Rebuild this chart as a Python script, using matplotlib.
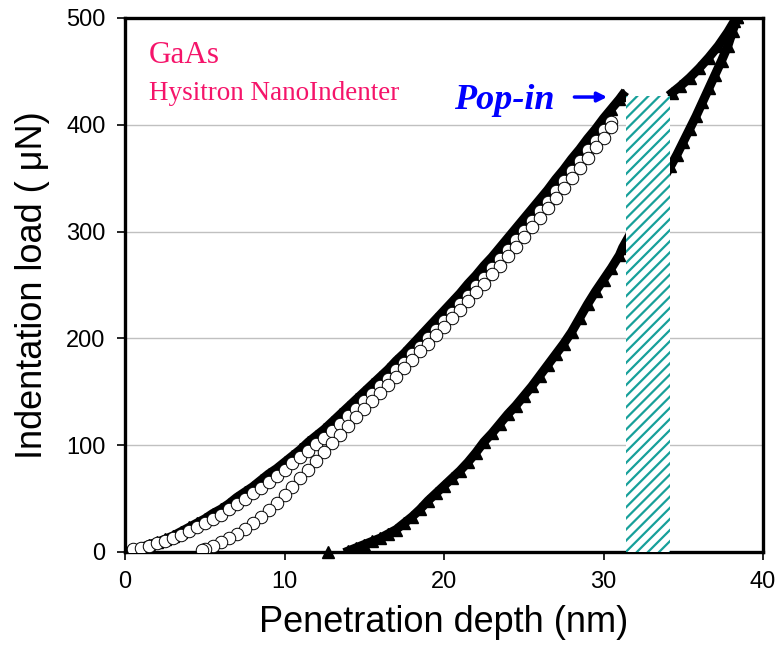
import matplotlib
matplotlib.use("Agg")
import matplotlib.pyplot as plt
from matplotlib.patches import Rectangle

# --- elastic test (open circles): loading then unloading
circ_load_x = [0.5, 1.0, 1.5, 2.0, 2.5, 3.0, 3.5, 4.0, 4.5, 5.0, 5.5, 6.0, 6.5, 7.0, 7.5,
               8.0, 8.5, 9.0, 9.5, 10.0, 10.5, 11.0, 11.5, 12.0, 12.5, 13.0, 13.5, 14.0,
               14.5, 15.0, 15.5, 16.0, 16.5, 17.0, 17.5, 18.0, 18.5, 19.0, 19.5, 20.0,
               20.5, 21.0, 21.5, 22.0, 22.5, 23.0, 23.5, 24.0, 24.5, 25.0, 25.5, 26.0,
               26.5, 27.0, 27.5, 28.0, 28.5, 29.0, 29.5, 30.0, 30.5]
circ_load_y = [3, 4, 6, 8, 10, 13, 16, 20, 23, 27, 31, 35, 40, 45, 50,
               55, 60, 66, 71, 77, 83, 89, 95, 101, 107, 113, 120, 127,
               134, 141, 148, 155, 162, 170, 177, 185, 192, 200, 208, 216,
               224, 232, 240, 249, 257, 266, 274, 283, 292, 301, 310, 319,
               328, 338, 347, 357, 366, 376, 385, 395, 403]

circ_unload_x = [30.5, 30.0, 29.5, 29.0, 28.5, 28.0, 27.5, 27.0, 26.5, 26.0, 25.5, 25.0,
                 24.5, 24.0, 23.5, 23.0, 22.5, 22.0, 21.5, 21.0, 20.5, 20.0, 19.5, 19.0,
                 18.5, 18.0, 17.5, 17.0, 16.5, 16.0, 15.5, 15.0, 14.5, 14.0, 13.5, 13.0,
                 12.5, 12.0, 11.5, 11.0, 10.5, 10.0, 9.5, 9.0, 8.5, 8.0, 7.5, 7.0, 6.5,
                 6.0, 5.5, 5.0, 4.8]
circ_unload_y = [398, 388, 379, 369, 360, 350, 341, 331, 322, 313, 304, 295,
                 286, 277, 268, 260, 251, 243, 235, 227, 219, 211, 203, 195,
                 188, 180, 172, 164, 156, 149, 141, 134, 126, 118, 110, 102,
                 94, 85, 77, 69, 61, 53, 46, 39, 33, 27, 22, 17, 13,
                 9, 6, 3, 2]

# --- plastic test (filled triangles): loading up to the pop-in
tri_load_x = [0.0, 0.5, 1.0, 1.5, 2.0, 2.5, 3.0, 3.5, 4.0, 4.5, 5.0, 5.5, 6.0, 6.5, 7.0,
              7.5, 8.0, 8.5, 9.0, 9.5, 10.0, 10.5, 11.0, 11.5, 12.0, 12.5, 13.0, 13.5,
              14.0, 14.5, 15.0, 15.5, 16.0, 16.5, 17.0, 17.5, 18.0, 18.5, 19.0, 19.5,
              20.0, 20.5, 21.0, 21.5, 22.0, 22.5, 23.0, 23.5, 24.0, 24.5, 25.0, 25.5,
              26.0, 26.5, 27.0, 27.5, 28.0, 28.5, 29.0, 29.5, 30.0, 30.5, 31.0, 31.2]
tri_load_y = [0, 2, 4, 7, 9, 12, 15, 19, 23, 27, 31, 36, 40, 45, 51,
              56, 61, 67, 73, 78, 84, 90, 96, 103, 109, 115, 122, 129,
              136, 143, 150, 157, 164, 171, 179, 186, 194, 202, 210, 218,
              226, 234, 242, 251, 259, 268, 276, 285, 294, 303, 312, 321,
              330, 339, 349, 358, 368, 377, 387, 396, 406, 415, 424, 428]

# reloading after the pop-in, up to peak load
tri_reload_x = [34.3, 34.8, 35.4, 36.0, 36.6, 37.2, 37.8, 38.2, 38.4]
tri_reload_y = [430, 436, 444, 453, 463, 474, 487, 497, 501]

# unloading from peak load
tri_unload_x = [38.4, 38.1, 37.8, 37.4, 37.0, 36.6, 36.2, 35.8, 35.4, 35.0, 34.6, 34.2,
                33.5, 33.0, 32.5, 32.0, 31.5, 31.2, 31.0, 30.5, 30.0, 29.5, 29.0, 28.5,
                28.0, 27.5, 27.0, 26.5, 26.0, 25.5, 25.0, 24.5, 24.0, 23.5, 23.0, 22.5,
                22.0, 21.5, 21.0, 20.5, 20.0, 19.5, 19.0, 18.5, 18.0, 17.5, 17.0, 16.5,
                16.0, 15.5, 15.0, 14.5, 14.0]
tri_unload_y = [501, 488, 474, 460, 447, 434, 421, 408, 396, 384, 372, 361,
                343, 331, 318, 306, 293, 285, 278, 266, 255, 244, 232, 219,
                206, 195, 185, 175, 165, 155, 146, 137, 129, 120, 111, 103,
                93, 84, 76, 69, 62, 55, 48, 40, 33, 27, 21, 17,
                13, 10, 7, 4, 1]
# stray points at zero load
tri_stray_x = [12.7]
tri_stray_y = [0]

popin_x0, popin_x1, popin_load = 31.4, 34.2, 427

plt.rcParams["font.family"] = ["Liberation Sans", "DejaVu Sans"]
plt.rcParams["hatch.linewidth"] = 1.6

fig = plt.figure(figsize=(7.77, 6.52), dpi=100)
ax = fig.add_axes([125 / 777, 100 / 652, 638 / 777, 534 / 652])

tri_kw = dict(color="black", lw=6.5, marker="^", ms=9, mfc="black", mec="black",
              solid_joinstyle="round", zorder=2)
ax.plot(tri_load_x, tri_load_y, **tri_kw)
ax.plot(tri_reload_x, tri_reload_y, **tri_kw)
ax.plot(tri_unload_x, tri_unload_y, **tri_kw)
ax.plot(tri_stray_x, tri_stray_y, ls="none", marker="^", ms=9, color="black",
        zorder=2, clip_on=False)

circ_kw = dict(color="black", lw=0.8, marker="o", ms=9, mfc="white", mec="black",
               mew=0.7, zorder=3)
ax.plot(circ_load_x, circ_load_y, **circ_kw)
ax.plot(circ_unload_x, circ_unload_y, **circ_kw)

# pop-in excursion, hatched
ax.add_patch(Rectangle((popin_x0, 0), popin_x1 - popin_x0, popin_load,
                       facecolor="white", edgecolor="#17a09a", hatch="///",
                       linewidth=0, zorder=4))

ax.text(1.5, 458, "GaAs", family="Liberation Serif", fontsize=22.5, color="#f5146a",
        va="baseline")
ax.text(1.5, 423, "Hysitron NanoIndenter", family="Liberation Serif", fontsize=19.5,
        color="#f5146a", va="baseline")
ax.text(20.6, 415, "Pop-in", family="Liberation Serif", fontsize=26, color="#0000ff",
        fontweight="bold", fontstyle="italic", va="baseline")
ax.annotate("", xy=(30.4, 426), xytext=(28.0, 426),
            arrowprops=dict(arrowstyle="-|>", color="#0000ff", lw=2.5,
                            mutation_scale=14))

ax.set_xlim(0, 40)
ax.set_ylim(0, 500)
ax.set_xticks([0, 10, 20, 30, 40])
ax.set_yticks([0, 100, 200, 300, 400, 500])
ax.yaxis.grid(True, color="#c0c0c0", lw=1)
ax.set_axisbelow(True)
ax.tick_params(direction="out", length=6, width=1.2, labelsize=17, pad=8)
for s in ax.spines.values():
    s.set_linewidth(2.4)

ax.set_xlabel("Penetration depth (nm)", fontsize=26, labelpad=8)
ax.set_ylabel("Indentation load ( \u03bcN)", fontsize=26, labelpad=12)

fig.savefig("out.png", dpi=100)
